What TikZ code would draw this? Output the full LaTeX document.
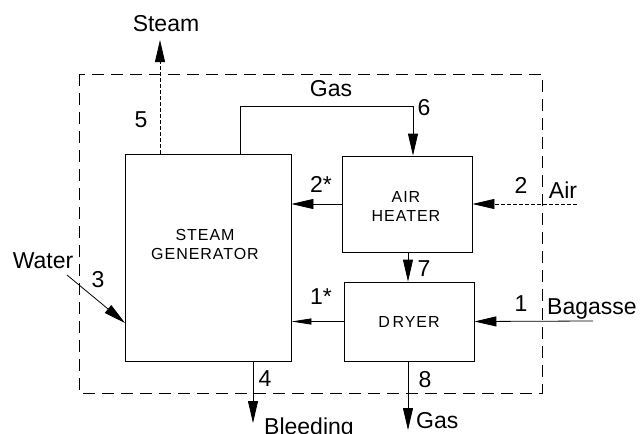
\documentclass[tikz,border=0pt]{standalone}
\usepackage{fontspec}
\setmainfont{Liberation Sans}
\usetikzlibrary{arrows.meta}
\begin{document}
\begin{tikzpicture}[x=1pt,y=-1pt,
  unitbox/.style={draw,line width=0.8pt,inner sep=0pt,align=center,
    font=\fontsize{16}{20}\selectfont\addfontfeature{LetterSpace=6}},
  lbl/.style={inner sep=0pt,font=\fontsize{23}{26}\selectfont},
  flow/.style={line width=0.8pt,-{Triangle[length=22pt,width=10pt]}},
  thinflow/.style={line width=0.8pt,-{Triangle[length=20pt,width=6pt]}},
  dd/.style={dash pattern=on 4pt off 2pt},
  border/.style={line width=0.8pt,dash pattern=on 12pt off 7pt}]
\useasboundingbox (0,0) rectangle (641,434);
% system boundary
\draw[border] (79,74) rectangle (542,393);
% units
\node[unitbox,minimum width=166pt,minimum height=207pt] (sg) at (208,257.5) {};
\node[font=\fontsize{16}{20}\selectfont\addfontfeature{LetterSpace=6},align=center,inner sep=0pt] (sgt) at (205,244) {STEAM\\[-1pt]GENERATOR};
\node[unitbox,minimum width=130pt,minimum height=96pt] (ah) at (407,204) {};
\node[font=\fontsize{16}{20}\selectfont\addfontfeature{LetterSpace=6},align=center,inner sep=0pt] (aht) at (406,206) {AIR\\[-1pt]HEATER};
\node[unitbox,minimum width=130pt,minimum height=79pt] (dr) at (409,321.5) {D\,RYER};
% coordinates
\coordinate (steamtop) at (160,40);
\coordinate (gasx) at (240,106);
\coordinate (gasy) at (413,106);
\coordinate (airin) at (577,204);
\coordinate (waterin) at (67,275);
\coordinate (waterat) at (125,323);
\coordinate (bagin) at (593,321);
\coordinate (bleed) at (253,423);
\coordinate (gasout) at (408,430);
\coordinate (x7) at (408,0);
% streams
\draw[flow,dd] (sg.north -| steamtop) -- (steamtop);
\draw[flow] (sg.north -| gasx) -- (gasx) -- (gasy) -- (ah.north -| gasy);
\draw[flow] (ah.west) -- (ah.west -| sg.east);
\draw[flow,dd] (airin) -- (ah.east);
\draw[flow] (waterin) -- (waterat);
\draw[thinflow] (dr.west) -- (dr.west -| sg.east);
\draw[flow] (ah.south -| x7) -- (dr.north -| x7);
\draw[flow] (bagin) -- (dr.east);
\draw[flow] (sg.south -| bleed) -- (bleed);
\draw[flow] (dr.south -| gasout) -- (gasout);
% labels
\node[lbl] (lsteam) at (166,24) {Steam};
\node[lbl] (l5) at (141,120) {5};
\node[lbl] (lgas) at (331,89) {Gas};
\node[lbl] (l6) at (424,108) {6};
\node[lbl] (l2s) at (321,184) {2*};
\node[lbl] (l2) at (521,185) {2};
\node[lbl] (lair) at (563,190) {Air};
\node[lbl] (lwater) at (43,261) {Water};
\node[lbl] (l3) at (98,280) {3};
\node[lbl] (l1s) at (321,297) {1*};
\node[lbl] (l7) at (424,269) {7};
\node[lbl] (l1) at (521,304) {1};
\node[lbl,anchor=west] (lbag) at (547,309) {Bagasse};
\node[lbl] (l4) at (265,379) {4};
\node[lbl] (l8) at (425,380) {8};
\node[lbl,anchor=west] (lgas2) at (416,421) {Gas};
\node[lbl,anchor=west] (lbleed) at (264,429) {Bleeding};
\end{tikzpicture}
\end{document}
